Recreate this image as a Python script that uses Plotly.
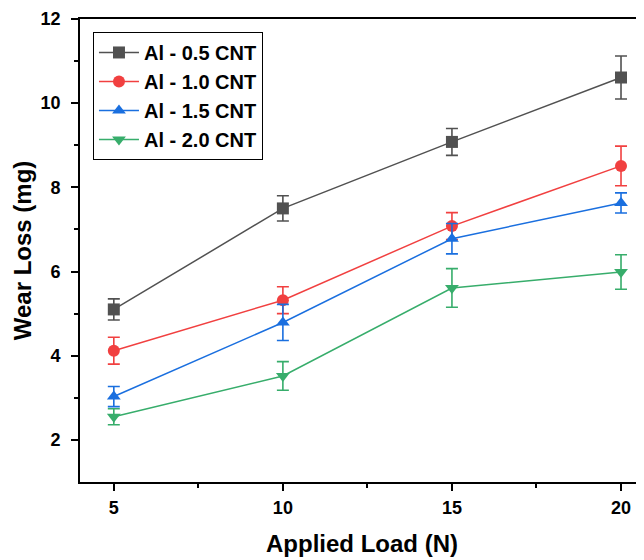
import plotly.graph_objects as go

loads = [5, 10, 15, 20]
series_names = ["Al - 0.5 CNT", "Al - 1.0 CNT", "Al - 1.5 CNT", "Al - 2.0 CNT"]
wear_05 = [5.10, 7.50, 9.08, 10.61]
err_05 = [0.25, 0.30, 0.32, 0.51]
wear_10 = [4.12, 5.32, 7.08, 8.51]
err_10 = [0.32, 0.32, 0.32, 0.47]
wear_15 = [3.03, 4.79, 6.78, 7.63]
err_15 = [0.24, 0.43, 0.36, 0.24]
wear_20 = [2.55, 3.52, 5.61, 5.99]
err_20 = [0.19, 0.34, 0.46, 0.41]

colors = ["#515151", "#F14040", "#1A6FDF", "#37AD6B"]
symbols = ["square", "circle", "triangle-up", "triangle-down"]
values = [wear_05, wear_10, wear_15, wear_20]
errors = [err_05, err_10, err_15, err_20]

FONT = "Arial, Liberation Sans, sans-serif"

fig = go.Figure()
for name, y, e, c, s in zip(series_names, values, errors, colors, symbols):
    fig.add_trace(go.Scatter(
        x=loads, y=y, name=name, mode="lines+markers",
        line=dict(color=c, width=1.5),
        marker=dict(symbol=s, size=12, color=c),
        error_y=dict(type="data", array=e, visible=True, color=c, thickness=1.6, width=6),
    ))

# page body has an 8px margin, so the figure is drawn 8px right/down
fig.update_layout(
    width=636, height=552,
    margin=dict(l=72, r=0, t=11, b=78),
    paper_bgcolor="white", plot_bgcolor="white",
    font=dict(family=FONT, color="black"),
    showlegend=True,
    legend=dict(
        x=0.023, y=0.972, xanchor="left", yanchor="top",
        bordercolor="black", borderwidth=1, bgcolor="white",
        font=dict(family=FONT, size=20, color="black", weight="bold"),
        tracegroupgap=0, itemwidth=40,
    ),
    xaxis=dict(
        range=[4, 20.68], tickvals=loads, ticktext=[str(v) for v in loads],
        automargin=False,
        showgrid=False, zeroline=False,
        showline=True, linecolor="black", linewidth=1.8, mirror=True,
        ticks="outside", ticklen=7, tickwidth=1.5, tickcolor="black",
        ticklabelstandoff=1,
        minor=dict(ticks="outside", ticklen=4, tickwidth=1.5, tickcolor="black", tickvals=[7.5, 12.5, 17.5]),
        tickfont=dict(family=FONT, size=18, color="black", weight="bold"),
        title=dict(text="Applied Load (N)", font=dict(family=FONT, size=24, color="black", weight="bold"), standoff=19),
    ),
    yaxis=dict(
        range=[1, 12], tickvals=[2, 4, 6, 8, 10, 12],
        automargin=False,
        showgrid=False, zeroline=False,
        showline=True, linecolor="black", linewidth=1.8, mirror=False,
        ticks="outside", ticklen=7, tickwidth=1.5, tickcolor="black",
        ticklabelstandoff=7,
        minor=dict(ticks="outside", ticklen=4, tickwidth=1.5, tickcolor="black", tickvals=[3, 5, 7, 9, 11]),
        tickfont=dict(family=FONT, size=18, color="black", weight="bold"),
        title=dict(text="Wear Loss (mg)", font=dict(family=FONT, size=24, color="black", weight="bold"), standoff=2),
    ),
)

fig.write_html("out.html")
